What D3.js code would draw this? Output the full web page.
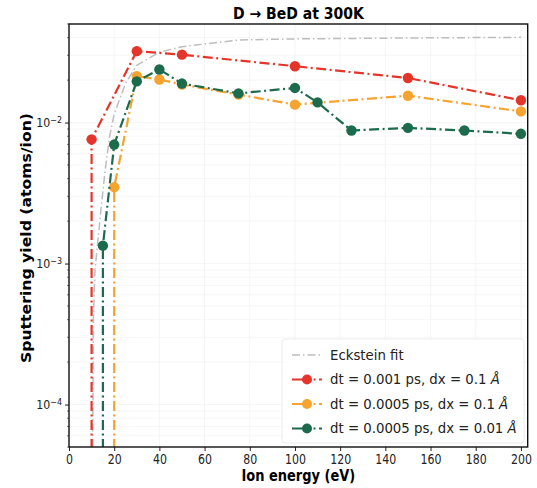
<!DOCTYPE html>
<html>
<head>
<meta charset="utf-8">
<script src="https://cdn.jsdelivr.net/npm/d3@7"></script>
<style>
  body { margin: 0; background: #fff; }
  text { font-family: "DejaVu Sans", sans-serif; }
</style>
</head>
<body>
<svg id="chart" width="537" height="488"></svg>
<script>
// values
const xTicks = [0, 20, 40, 60, 80, 100, 120, 140, 160, 180, 200];
const yTicks = [1e-4, 1e-3, 1e-2];
const yTickLabels = ["\u22124", "\u22123", "\u22122"];

// Eckstein fit curve
const fitE = [10.5, 10.8, 11.5, 12.5, 14, 16, 18, 20, 25, 30, 40, 50, 75, 100, 150, 200];
const fitY = [5e-5, 4e-4, 9e-4, 1.3e-3, 2.3e-3, 4.6e-3, 8e-3, 0.0115, 0.019, 0.0255, 0.0315, 0.0345, 0.0385, 0.0392, 0.0398, 0.0402];

// simulations (0 = no sputtering, drawn clipped to the bottom)
const redE = [5, 10, 30, 50, 100, 150, 200];
const redY = [0, 0.0076, 0.0321, 0.0303, 0.0251, 0.0207, 0.0144];

const orangeE = [10, 15, 20, 30, 40, 50, 75, 100, 150, 200];
const orangeY = [0, 0, 0.00348, 0.0213, 0.0202, 0.0186, 0.0158, 0.0134, 0.0155, 0.0120];

const greenE = [10, 15, 20, 30, 40, 50, 75, 100, 110, 125, 150, 175, 200];
const greenY = [0, 0.00134, 0.00698, 0.0196, 0.0238, 0.0189, 0.0161, 0.0176, 0.0139, 0.00878, 0.00917, 0.00878, 0.00832];

const seriesNames = ["Eckstein fit", "dt = 0.001 ps, dx = 0.1 ", "dt = 0.0005 ps, dx = 0.1 ", "dt = 0.0005 ps, dx = 0.01 "];
const colors = ["#bdbdbd", "#e5352b", "#f7a330", "#1b6b4c"];

const svg = d3.select("#chart");
const pLeft = 69, pRight = 527.7, pTop = 24, pBottom = 447;

const x = d3.scaleLinear().domain([0, 203]).range([pLeft, pRight]);
const y = d3.scaleLog().domain([5e-5, 5e-2]).range([pBottom, pTop]);

// faint grid
const grid = svg.append("g");
grid.selectAll("line.gx")
  .data(xTicks)
  .enter().append("line")
  .attr("x1", d => x(d)).attr("x2", d => x(d))
  .attr("y1", pTop).attr("y2", pBottom)
  .attr("stroke", "#f3f3f3").attr("stroke-width", 0.8);
const minorY = [];
[1e-5, 1e-4, 1e-3, 1e-2].forEach(b => {
  for (let k = 1; k < 10; k++) {
    const v = b * k;
    if (v >= 5e-5 && v <= 5e-2) minorY.push(v);
  }
});
grid.selectAll("line.gy")
  .data(minorY)
  .enter().append("line")
  .attr("x1", pLeft).attr("x2", pRight)
  .attr("y1", d => y(d)).attr("y2", d => y(d))
  .attr("stroke", "#f4f4f4").attr("stroke-width", 0.8);

svg.append("clipPath").attr("id", "clip")
  .append("rect")
  .attr("x", pLeft).attr("y", pTop)
  .attr("width", pRight - pLeft).attr("height", pBottom - pTop);

const plot = svg.append("g").attr("clip-path", "url(#clip)");

// turn zero yields into points far below the axis, at the x of the nearest positive point
function toPoints(es, ys) {
  const pts = es.map((e, i) => ({ e: e, v: ys[i] }));
  return pts.map((p, i) => {
    if (p.v > 0) return [x(p.e), y(p.v)];
    let j = i;
    while (j < pts.length && !(pts[j].v > 0)) j++;
    if (j >= pts.length) { j = i; while (j >= 0 && !(pts[j].v > 0)) j--; }
    return [x(pts[j].e), pBottom + 40];
  });
}

const line = d3.line();

// Eckstein fit
plot.append("path")
  .attr("d", line(fitE.map((e, i) => [x(e), y(fitY[i])])))
  .attr("fill", "none")
  .attr("stroke", colors[0])
  .attr("stroke-width", 1.5)
  .attr("stroke-dasharray", "8,3,1.5,3");

const sims = [
  { e: redE, v: redY, c: colors[1] },
  { e: orangeE, v: orangeY, c: colors[2] },
  { e: greenE, v: greenY, c: colors[3] }
];

sims.forEach(s => {
  plot.append("path")
    .attr("d", line(toPoints(s.e, s.v)))
    .attr("fill", "none")
    .attr("stroke", s.c)
    .attr("stroke-width", 2.2)
    .attr("stroke-dasharray", "10,3.5,2,3.5");
  plot.selectAll(null)
    .data(s.e.map((e, i) => ({ e: e, v: s.v[i] })).filter(d => d.v > 0))
    .enter().append("circle")
    .attr("cx", d => x(d.e))
    .attr("cy", d => y(d.v))
    .attr("r", 5.2)
    .attr("fill", s.c);
});

// axes
const xAxis = d3.axisBottom(x).tickValues(xTicks).tickSize(4).tickPadding(3);
const gx = svg.append("g").attr("transform", "translate(0," + pBottom + ")").call(xAxis);
gx.select(".domain").remove();
gx.selectAll("text")
  .attr("font-size", 11).attr("fill", "#222")
  .attr("y", 0).attr("dy", "0.76em")
  .attr("transform", "translate(0,7) scale(1,1.2)");
gx.selectAll("line").attr("stroke", "#222");

const yAxis = d3.axisLeft(y).tickValues(yTicks).tickSize(4).tickPadding(3).tickFormat("");
const gy = svg.append("g").attr("transform", "translate(" + pLeft + ",0)").call(yAxis);
gy.select(".domain").remove();
gy.selectAll("line").attr("stroke", "#222");
gy.selectAll(".tick").each(function (d, i) {
  const t = d3.select(this).append("text")
    .attr("x", -7).attr("dy", "0.32em")
    .attr("text-anchor", "end")
    .attr("font-size", 11)
    .attr("fill", "#222")
    .attr("transform", "scale(1,1.15)");
  t.append("tspan").text("10");
  t.append("tspan").attr("dy", "-0.45em").attr("font-size", 8).text(yTickLabels[i]);
});
// minor log ticks
svg.append("g").selectAll("line")
  .data(minorY.filter(v => yTicks.indexOf(v) < 0))
  .enter().append("line")
  .attr("x1", pLeft - 2).attr("x2", pLeft)
  .attr("y1", d => y(d)).attr("y2", d => y(d))
  .attr("stroke", "#222").attr("stroke-width", 0.6);

// frame
svg.append("rect")
  .attr("x", pLeft).attr("y", pTop)
  .attr("width", pRight - pLeft).attr("height", pBottom - pTop)
  .attr("fill", "none").attr("stroke", "#111").attr("stroke-width", 1.4);

// title and labels
svg.append("text")
  .attr("transform", "translate(" + ((pLeft + pRight) / 2) + ",19) scale(1,1.1)")
  .attr("text-anchor", "middle")
  .attr("font-size", 14).attr("font-weight", "bold")
  .text("D \u2192 BeD at 300K");
svg.append("text")
  .attr("transform", "translate(" + ((pLeft + pRight) / 2) + ",481) scale(1,1.2)")
  .attr("text-anchor", "middle")
  .attr("font-size", 13).attr("font-weight", "bold")
  .text("Ion energy (eV)");
svg.append("text")
  .attr("transform", "translate(31,238) rotate(-90)")
  .attr("text-anchor", "middle")
  .attr("font-size", 14).attr("font-weight", "bold")
  .attr("textLength", 250).attr("lengthAdjust", "spacingAndGlyphs")
  .text("Sputtering yield (atoms/ion)");

// legend
const lg = svg.append("g");
lg.append("rect")
  .attr("x", 282).attr("y", 339)
  .attr("width", 242).attr("height", 104)
  .attr("rx", 3)
  .attr("fill", "#fff").attr("fill-opacity", 0.85)
  .attr("stroke", "#ececec");
seriesNames.forEach((name, i) => {
  const ly = 355 + i * 24.5;
  lg.append("line")
    .attr("x1", 292).attr("x2", 322)
    .attr("y1", ly).attr("y2", ly)
    .attr("stroke", colors[i])
    .attr("stroke-width", i === 0 ? 1.5 : 2.2)
    .attr("stroke-dasharray", i === 0 ? "8,3,1.5,3" : "18,3.5,2,3.5");
  if (i > 0) {
    lg.append("circle").attr("cx", 307).attr("cy", ly).attr("r", 5).attr("fill", colors[i]);
  }
  const t = lg.append("text")
    .attr("x", 330).attr("y", ly).attr("dy", "0.36em")
    .attr("font-size", 13.3).attr("fill", "#222")
    .text(name);
  if (i > 0) t.append("tspan").attr("font-style", "italic").text("\u00c5");
});
</script>
</body>
</html>
